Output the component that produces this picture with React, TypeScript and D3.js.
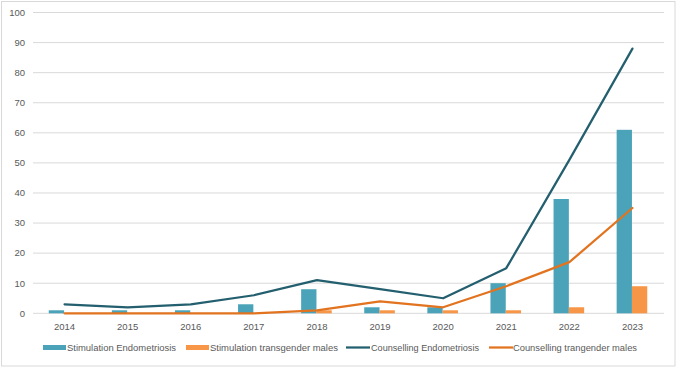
import React, { useEffect, useRef } from 'react';
import * as d3 from 'd3';

const years = ['2014', '2015', '2016', '2017', '2018', '2019', '2020', '2021', '2022', '2023'];
const stimEndo = [1, 1, 1, 3, 8, 2, 2, 10, 38, 61];
const stimTrans = [0, 0, 0, 0, 1, 1, 1, 1, 2, 9];
const counsEndo = [3, 2, 3, 6, 11, 8, 5, 15, 51, 88];
const counsTrans = [0, 0, 0, 0, 1, 4, 2, 9, 17, 35];
const yTicks = [0, 10, 20, 30, 40, 50, 60, 70, 80, 90, 100];

const barSeries = ['Stimulation Endometriosis', 'Stimulation transgender males'];
const lineSeries = ['Counselling Endometriosis', 'Counselling trangender males'];
const colors = {
  stimEndo: '#4aa3b8',
  stimTrans: '#f79646',
  counsEndo: '#235f6e',
  counsTrans: '#e2731f',
};

const W = 678;
const H = 368;

const App: React.FC = () => {
  const svgRef = useRef<SVGSVGElement | null>(null);

  useEffect(() => {
    const svg = d3.select(svgRef.current);
    svg.selectAll('*').remove();

    const left = 33;
    const right = 664;
    const top = 12.5;
    const bottom = 313.3;
    const font = 'Liberation Sans, Arial, sans-serif';

    // chart border
    svg.append('rect')
      .attr('x', 1.5).attr('y', 1.5)
      .attr('width', 673.5).attr('height', 364.5)
      .attr('fill', '#fff')
      .attr('stroke', '#d9d9d9');

    const x = d3.scaleBand().domain(years).range([left, right]).padding(0);
    const y = d3.scaleLinear().domain([0, 100]).range([bottom, top]);

    // gridlines + y labels
    const grid = svg.append('g');
    grid.selectAll('line')
      .data(yTicks)
      .enter()
      .append('line')
      .attr('x1', left).attr('x2', right)
      .attr('y1', d => y(d)).attr('y2', d => y(d))
      .attr('stroke', '#d9d9d9').attr('stroke-width', 1);
    grid.selectAll('text')
      .data(yTicks)
      .enter()
      .append('text')
      .attr('x', 25)
      .attr('y', d => y(d))
      .attr('dy', '0.35em')
      .attr('text-anchor', 'end')
      .attr('font-family', font)
      .attr('font-size', 9.5)
      .attr('fill', '#595959')
      .text(d => d);

    // x labels
    svg.append('g').selectAll('text')
      .data(years)
      .enter()
      .append('text')
      .attr('x', d => (x(d) as number) + x.bandwidth() / 2)
      .attr('y', 326.5)
      .attr('dy', '0.35em')
      .attr('text-anchor', 'middle')
      .attr('font-family', font)
      .attr('font-size', 9.5)
      .attr('fill', '#595959')
      .text(d => d);

    // grouped bars
    const barW = 15.3;
    const x1 = d3.scaleBand().domain(barSeries).range([-barW, barW]).padding(0);
    const barData = [
      { key: barSeries[0], values: stimEndo, color: colors.stimEndo },
      { key: barSeries[1], values: stimTrans, color: colors.stimTrans },
    ];
    barData.forEach(s => {
      svg.append('g').selectAll('rect')
        .data(s.values)
        .enter()
        .append('rect')
        .attr('x', (d, i) => (x(years[i]) as number) + x.bandwidth() / 2 - 0.5 + (x1(s.key) as number))
        .attr('y', d => y(d))
        .attr('width', x1.bandwidth())
        .attr('height', d => bottom - y(d))
        .attr('fill', s.color);
    });

    // lines
    const line = d3.line<number>()
      .x((d, i) => (x(years[i]) as number) + x.bandwidth() / 2)
      .y(d => y(d));
    const lineData = [
      { key: lineSeries[0], values: counsEndo, color: colors.counsEndo },
      { key: lineSeries[1], values: counsTrans, color: colors.counsTrans },
    ];
    lineData.forEach(s => {
      svg.append('path')
        .datum(s.values)
        .attr('d', line)
        .attr('fill', 'none')
        .attr('stroke', s.color)
        .attr('stroke-width', 2.25)
        .attr('stroke-linejoin', 'round')
        .attr('stroke-linecap', 'round');
    });

    // legend
    const ly = 347.5;
    const legend = [
      { label: barSeries[0], color: colors.stimEndo, type: 'bar', x0: 43, tx: 67, tw: 109 },
      { label: barSeries[1], color: colors.stimTrans, type: 'bar', x0: 186, tx: 210, tw: 128 },
      { label: lineSeries[0], color: colors.counsEndo, type: 'line', x0: 346, tx: 371, tw: 108 },
      { label: lineSeries[1], color: colors.counsTrans, type: 'line', x0: 489, tx: 513, tw: 124 },
    ];
    const lg = svg.append('g');
    legend.forEach(item => {
      if (item.type === 'bar') {
        lg.append('rect')
          .attr('x', item.x0).attr('y', ly - 2.5)
          .attr('width', 23).attr('height', 5)
          .attr('fill', item.color);
      } else {
        lg.append('line')
          .attr('x1', item.x0).attr('x2', item.x0 + 24)
          .attr('y1', ly).attr('y2', ly)
          .attr('stroke', item.color).attr('stroke-width', 2.25);
      }
      lg.append('text')
        .attr('x', item.tx)
        .attr('y', ly)
        .attr('dy', '0.35em')
        .attr('font-family', font)
        .attr('font-size', 9.5)
        .attr('fill', '#595959')
        .attr('textLength', item.tw)
        .attr('lengthAdjust', 'spacingAndGlyphs')
        .text(item.label);
    });
  }, []);

  return (
    <div style={{ position: 'absolute', left: 0, top: 0, width: W, height: H }}>
      <svg ref={svgRef} width={W} height={H} style={{ display: 'block' }} />
    </div>
  );
};

export default App;
